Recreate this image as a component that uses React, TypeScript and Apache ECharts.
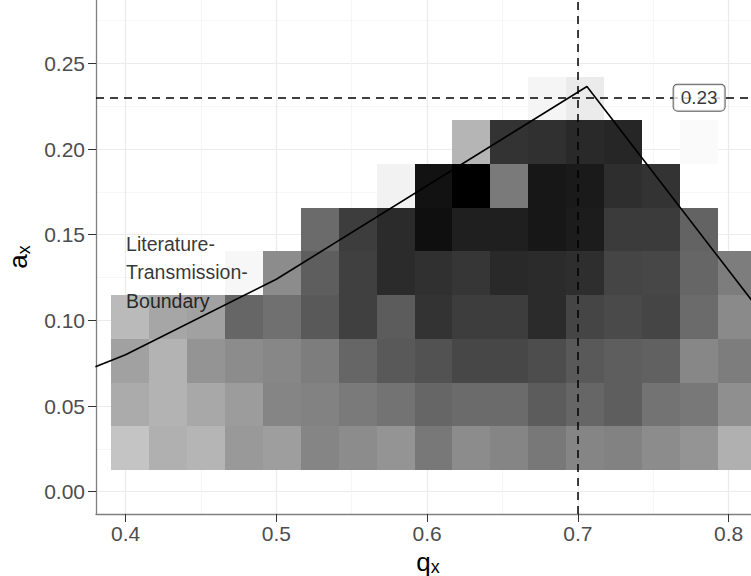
import React, { useEffect, useRef } from "react";
import * as echarts from "echarts";

// bin centres of the 2-D histogram
const qBins = [0.4030, 0.4282, 0.4533, 0.4785, 0.5036, 0.5288, 0.5540, 0.5791, 0.6043, 0.6294, 0.6546, 0.6798, 0.7049, 0.7301, 0.7552, 0.7804, 0.8056];
const aBins = [0.0255, 0.0510, 0.0765, 0.1020, 0.1275, 0.1530, 0.1785, 0.2040, 0.2295];
const binWidthQ = 0.02516;
const binHeightA = 0.0255;

// shade value (0 = white, 100 = black) per a-bin row, one entry per q-bin
const shadeRow1 = [23, 31, 29, 40, 38, 48, 45, 42, 53, 45, 48, 53, 48, 49, 45, 42, 31];
const shadeRow2 = [33, 30, 34, 39, 48, 49, 52, 55, 60, 58, 58, 64, 60, 63, 55, 53, 44];
const shadeRow3 = [37, 30, 42, 45, 47, 51, 60, 65, 68, 72, 72, 70, 65, 63, 62, 47, 51];
const shadeRow4 = [27, 35, 37, 60, 56, 65, 75, 64, 80, 76, 76, 83, 73, 71, 73, 58, 46];
const shadeRow5 = [null, null, null, 3, 45, 63, 75, 83, 81, 79, 84, 83, 82, 73, 72, 60, 51];
const shadeRow6 = [null, null, null, null, null, 58, 76, 83, 94, 88, 88, 91, 89, 77, 77, 61, null];
const shadeRow7 = [null, null, null, null, null, null, null, 5, 93, 100, 52, 91, 90, 82, 80, null, null];
const shadeRow8 = [null, null, null, null, null, null, null, null, null, 29, 80, 81, 84, 85, null, 2, null];
const shadeRow9 = [null, null, null, null, null, null, null, null, null, null, null, 4, 8, null, null, null, null];
const shadeRows = [shadeRow1, shadeRow2, shadeRow3, shadeRow4, shadeRow5, shadeRow6, shadeRow7, shadeRow8, shadeRow9];

// literature transmission boundary
const boundaryQ = [0.38, 0.40, 0.50, 0.706, 0.82];
const boundaryA = [0.0729, 0.0800, 0.1240, 0.2365, 0.1063];

// reference lines and annotations
const refQ = 0.7;
const refA = 0.23;
const refLabel = "0.23";
const refLabelQ = 0.7804;
const noteLines = ["Literature-", "Transmission-", "Boundary"];
const noteQ = 0.4;
const noteA = 0.128;

const qTicks = [0.4, 0.5, 0.6, 0.7, 0.8];
const aTicks = [0, 0.05, 0.1, 0.15, 0.2, 0.25];

const FONT = "'Liberation Sans', Arial, Helvetica, sans-serif";

export default function App() {
  const ref = useRef<HTMLDivElement>(null);

  useEffect(() => {
    if (!ref.current) return;
    const chart = echarts.init(ref.current, undefined, { renderer: "svg" });

    const tiles: number[][] = [];
    shadeRows.forEach((row, i) => {
      row.forEach((v, j) => {
        if (v !== null && v !== undefined) tiles.push([qBins[j], aBins[i], v]);
      });
    });

    const option: any = {
      animation: false,
      backgroundColor: "#ffffff",
      grid: {
        left: 96,
        right: 0,
        top: 0,
        bottom: 62,
        containLabel: false,
        outerBoundsMode: "none",
      },
      xAxis: {
        type: "value",
        min: 0.3804,
        max: 0.8148,
        splitNumber: 5,
        name: "{m|q}{s|x}",
        nameLocation: "middle",
        nameGap: 24,
        nameTextStyle: {
          padding: [0, 0, 0, 9],
          rich: {
            m: { fontSize: 26, color: "#000", fontFamily: FONT, lineHeight: 28 },
            s: { fontSize: 18, color: "#000", fontFamily: FONT, lineHeight: 14, verticalAlign: "bottom" },
          },
        },
        axisLine: { show: true, onZero: false, lineStyle: { color: "#7f7f7f", width: 1.3 } },
        axisTick: { show: true, length: 8, customValues: qTicks, lineStyle: { color: "#333", width: 1 } },
        axisLabel: {
          show: true,
          customValues: qTicks,
          margin: 9,
          fontSize: 21,
          color: "#4d4d4d",
          fontFamily: FONT,
          formatter: (v: number) => v.toFixed(1),
        },
        splitLine: { show: true, lineStyle: { color: "#ebebeb", width: 1.2 } },
        minorTick: { show: false, splitNumber: 2 },
        minorSplitLine: { show: true, lineStyle: { color: "#f4f4f4", width: 0.8 } },
      },
      yAxis: {
        type: "value",
        min: -0.013,
        max: 0.287,
        splitNumber: 6,
        name: "{m|a}{s|x}",
        nameLocation: "middle",
        nameGap: 63,
        nameTextStyle: {
          rich: {
            m: { fontSize: 26, color: "#000", fontFamily: FONT, lineHeight: 30 },
            s: { fontSize: 18, color: "#000", fontFamily: FONT, lineHeight: 16, verticalAlign: "bottom" },
          },
        },
        axisLine: { show: true, onZero: false, lineStyle: { color: "#7f7f7f", width: 1.3 } },
        axisTick: { show: true, length: 8, customValues: aTicks, lineStyle: { color: "#333", width: 1 } },
        axisLabel: {
          show: true,
          customValues: aTicks,
          margin: 11,
          fontSize: 21,
          color: "#4d4d4d",
          fontFamily: FONT,
          formatter: (v: number) => v.toFixed(2),
        },
        splitLine: { show: true, lineStyle: { color: "#ebebeb", width: 1.2 } },
        minorTick: { show: false, splitNumber: 2 },
        minorSplitLine: { show: true, lineStyle: { color: "#f4f4f4", width: 0.8 } },
      },
      series: [
        {
          type: "custom",
          z: 1,
          clip: true,
          silent: true,
          data: tiles,
          renderItem: (params: any, api: any) => {
            const q = api.value(0);
            const a = api.value(1);
            const v = api.value(2);
            const p0 = api.coord([q - binWidthQ / 2, a + binHeightA / 2]);
            const p1 = api.coord([q + binWidthQ / 2, a - binHeightA / 2]);
            const x0 = Math.round(p0[0]);
            const y0 = Math.round(p0[1]);
            const x1 = Math.round(p1[0]);
            const y1 = Math.round(p1[1]);
            const g = Math.round(255 - v * 2.55);
            return {
              type: "rect",
              shape: { x: x0, y: y0, width: x1 - x0, height: y1 - y0 },
              style: { fill: `rgb(${g},${g},${g})` },
            };
          },
        },
        {
          type: "line",
          z: 3,
          clip: true,
          silent: true,
          showSymbol: false,
          symbol: "none",
          data: boundaryQ.map((q, i) => [q, boundaryA[i]]),
          lineStyle: { color: "#000", width: 1.6 },
        },
        {
          type: "line",
          z: 4,
          silent: true,
          data: [],
          markLine: {
            silent: true,
            symbol: ["none", "none"],
            label: { show: false },
            lineStyle: { color: "#000", width: 1.5, type: [8, 6] },
            data: [{ xAxis: refQ }, { yAxis: refA }],
          },
        },
        {
          type: "scatter",
          z: 6,
          silent: true,
          symbolSize: 1,
          itemStyle: { color: "transparent" },
          data: [[refLabelQ, refA]],
          label: {
            show: true,
            position: "inside",
            formatter: refLabel,
            fontSize: 19,
            color: "#000",
            fontFamily: FONT,
            backgroundColor: "#ffffff",
            borderColor: "#333",
            borderWidth: 1,
            borderRadius: 4,
            padding: [4, 7, 3, 7],
          },
        },
        {
          type: "scatter",
          z: 6,
          silent: true,
          symbolSize: 1,
          itemStyle: { color: "transparent" },
          data: [[noteQ, noteA]],
          label: {
            show: true,
            position: "right",
            distance: 0,
            align: "left",
            verticalAlign: "middle",
            formatter: noteLines.join("\n"),
            fontSize: 19.5,
            lineHeight: 28.5,
            color: "#000",
            fontFamily: FONT,
          },
        },
      ],
    };

    chart.setOption(option);
    return () => {
      chart.dispose();
    };
  }, []);

  return (
    <div
      ref={ref}
      style={{ position: "absolute", left: 0, top: 0, width: 751, height: 576, background: "#fff" }}
    />
  );
}
